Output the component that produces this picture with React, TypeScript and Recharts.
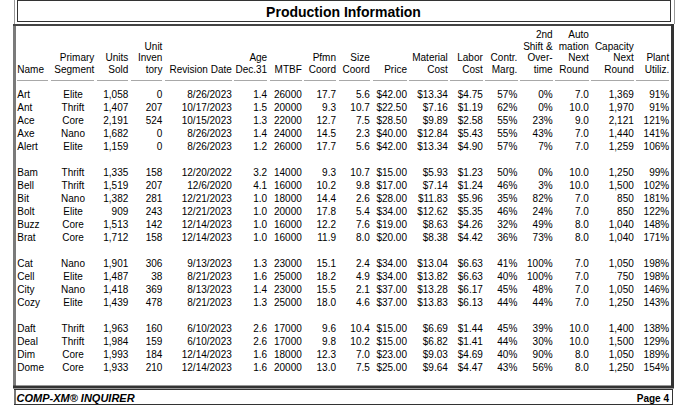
import { ScatterChart, Scatter, XAxis, YAxis } from 'recharts';

// one entry per product, in report order
const names = ['Art', 'Ant', 'Ace', 'Axe', 'Alert', 'Bam', 'Bell', 'Bit', 'Bolt', 'Buzz', 'Brat', 'Cat', 'Cell', 'City', 'Cozy', 'Daft', 'Deal', 'Dim', 'Dome'];
const segments = ['Elite', 'Thrift', 'Core', 'Nano', 'Elite', 'Thrift', 'Thrift', 'Nano', 'Elite', 'Core', 'Core', 'Nano', 'Elite', 'Nano', 'Elite', 'Thrift', 'Thrift', 'Core', 'Core'];
const unitsSold = [1058, 1407, 2191, 1682, 1159, 1335, 1519, 1382, 909, 1513, 1712, 1901, 1487, 1418, 1439, 1963, 1984, 1993, 1933];
const inventory = [0, 207, 524, 0, 0, 158, 207, 281, 243, 142, 158, 306, 38, 369, 478, 160, 159, 184, 210];
const revisionDates = ['8/26/2023', '10/17/2023', '10/15/2023', '8/26/2023', '8/26/2023', '12/20/2022', '12/6/2020', '12/21/2023', '12/21/2023', '12/14/2023', '12/14/2023', '9/13/2023', '8/21/2023', '8/13/2023', '8/21/2023', '6/10/2023', '6/10/2023', '12/14/2023', '12/14/2023'];
const ageDec31 = [1.4, 1.5, 1.3, 1.4, 1.2, 3.2, 4.1, 1.0, 1.0, 1.0, 1.0, 1.3, 1.6, 1.4, 1.3, 2.6, 2.6, 1.6, 1.6];
const mtbf = [26000, 20000, 22000, 24000, 26000, 14000, 16000, 18000, 20000, 16000, 16000, 23000, 25000, 23000, 25000, 17000, 17000, 18000, 20000];
const pfmnCoord = [17.7, 9.3, 12.7, 14.5, 17.7, 9.3, 10.2, 14.4, 17.8, 12.2, 11.9, 15.1, 18.2, 15.5, 18.0, 9.6, 9.8, 12.3, 13.0];
const sizeCoord = [5.6, 10.7, 7.5, 2.3, 5.6, 10.7, 9.8, 2.6, 5.4, 7.6, 8.0, 2.4, 4.9, 2.1, 4.6, 10.4, 10.2, 7.0, 7.5];
const prices = [42, 22.5, 28.5, 40, 42, 15, 17, 28, 34, 19, 20, 34, 34, 37, 37, 15, 15, 23, 25];
const materialCost = [13.34, 7.16, 9.89, 12.84, 13.34, 5.93, 7.14, 11.83, 12.62, 8.63, 8.38, 13.04, 13.82, 13.28, 13.83, 6.69, 6.82, 9.03, 9.64];
const laborCost = [4.75, 1.19, 2.58, 5.43, 4.90, 1.23, 1.24, 5.96, 5.35, 4.26, 4.42, 6.63, 6.63, 6.17, 6.13, 1.44, 1.41, 4.69, 4.47];
const contrMargin = [57, 62, 55, 55, 57, 50, 46, 35, 46, 32, 36, 41, 40, 45, 44, 45, 44, 40, 43];
const overtime = [0, 0, 23, 43, 7, 0, 3, 82, 24, 49, 73, 100, 100, 48, 44, 39, 30, 90, 56];
const automationNext = [7, 10, 9, 7, 7, 10, 10, 7, 7, 8, 8, 7, 7, 7, 7, 10, 10, 8, 8];
const capacityNext = [1369, 1970, 2121, 1440, 1259, 1250, 1500, 850, 850, 1040, 1040, 1050, 750, 1050, 1250, 1400, 1500, 1050, 1250];
const plantUtil = [91, 91, 121, 141, 106, 99, 102, 181, 122, 148, 171, 198, 198, 146, 143, 138, 129, 189, 154];

const W = 692;
const H = 413;
const FONT = '"Liberation Sans", Arial, Helvetica, sans-serif';
const HEADER_Y = [38, 49.5, 61, 72.5];
const RULE_Y = 80.5;
const FIRST_BASE = 97.7;
const LAST_BASE = 370.6;

const int = (v: number) => v.toLocaleString('en-US');
const one = (v: number) => v.toFixed(1);
const money = (v: number) => '$' + v.toFixed(2);
const pct = (v: number) => v + '%';

// blank line between the A / B / C / D teams
const rowPos = names.map((n, i) => i + 'ABCD'.indexOf(n[0]));
const lastRow = rowPos[rowPos.length - 1];
const rowH = (LAST_BASE - FIRST_BASE) / lastRow;

type Anchor = 'start' | 'middle' | 'end';
interface Col {
    key: string;
    header: string[];
    x: number;
    anchor: Anchor;
    headX?: number;
    headAnchor?: Anchor;
    rule: [number, number];
    values: string[];
}

const columns: Col[] = [
    { key: 'name', header: ['', '', '', 'Name'], x: 17.3, anchor: 'start', rule: [17, 48], values: names },
    { key: 'seg', header: ['', '', 'Primary', 'Segment'], x: 73, anchor: 'middle', headX: 94.3, headAnchor: 'end', rule: [51, 94], values: segments },
    { key: 'sold', header: ['', '', 'Units', 'Sold'], x: 128.3, anchor: 'end', rule: [97, 128], values: unitsSold.map(int) },
    { key: 'inv', header: ['', 'Unit', 'Inven', 'tory'], x: 162.4, anchor: 'end', rule: [131, 162], values: inventory.map(int) },
    { key: 'rev', header: ['', '', '', 'Revision Date'], x: 231.8, anchor: 'end', rule: [165, 232], values: revisionDates },
    { key: 'age', header: ['', '', 'Age', 'Dec.31'], x: 267.2, anchor: 'end', rule: [234, 267], values: ageDec31.map(one) },
    { key: 'mtbf', header: ['', '', '', 'MTBF'], x: 301.8, anchor: 'end', rule: [270, 302], values: mtbf.map(String) },
    { key: 'pfmn', header: ['', '', 'Pfmn', 'Coord'], x: 336, anchor: 'end', rule: [304, 336], values: pfmnCoord.map(one) },
    { key: 'size', header: ['', '', 'Size', 'Coord'], x: 369.8, anchor: 'end', rule: [339, 370], values: sizeCoord.map(one) },
    { key: 'price', header: ['', '', '', 'Price'], x: 407, anchor: 'end', rule: [373, 407], values: prices.map(money) },
    { key: 'mat', header: ['', '', 'Material', 'Cost'], x: 447.8, anchor: 'end', rule: [409, 448], values: materialCost.map(money) },
    { key: 'lab', header: ['', '', 'Labor', 'Cost'], x: 482.8, anchor: 'end', rule: [450, 483], values: laborCost.map(money) },
    { key: 'cm', header: ['', '', 'Contr.', 'Marg.'], x: 517.3, anchor: 'end', rule: [485, 518], values: contrMargin.map(pct) },
    { key: 'ot', header: ['2nd', 'Shift &', 'Over-', 'time'], x: 552.6, anchor: 'end', rule: [520, 553], values: overtime.map(pct) },
    { key: 'auto', header: ['Auto', 'mation', 'Next', 'Round'], x: 588.8, anchor: 'end', rule: [555, 589], values: automationNext.map(one) },
    { key: 'cap', header: ['', 'Capacity', 'Next', 'Round'], x: 633.8, anchor: 'end', rule: [591, 634], values: capacityNext.map(int) },
    { key: 'util', header: ['', '', 'Plant', 'Utiliz.'], x: 669.2, anchor: 'end', rule: [636, 669], values: plantUtil.map(pct) },
];

function Frame() {
    return (
        <svg width={W} height={H} style={{ position: 'absolute', left: 0, top: 0 }}>
            <rect x={0} y={0} width={W} height={H} fill="#fff" />
            {/* title box */}
            <line x1={14.5} y1={0} x2={14.5} y2={24} stroke="#999" />
            <line x1={674.5} y1={0} x2={674.5} y2={24} stroke="#999" />
            <rect x={17.5} y={0.5} width={653} height={21} fill="#fff" stroke="#333" />
            <text x={343.5} y={16.8} textAnchor="middle" fontFamily={FONT} fontSize={14} fontWeight="bold" fill="#000">
                Production Information
            </text>
            {/* main panel */}
            <rect x={13} y={24} width={661} height={364} fill="#fff" />
            <rect x={13} y={24} width={3} height={364} fill="#7a7a7a" />
            <rect x={13} y={24} width={661} height={2} fill="#444" />
            <rect x={671} y={24} width={3} height={364} fill="#333" />
            <rect x={13} y={385.5} width={661} height={3} fill="#333" />
            {/* header */}
            {columns.map(c =>
                c.header.map((h, r) =>
                    h ? (
                        <text
                            key={c.key + r}
                            x={c.headX ?? c.x}
                            y={HEADER_Y[r]}
                            textAnchor={c.headAnchor ?? c.anchor}
                            fontFamily={FONT}
                            fontSize={10}
                            fill="#000"
                        >
                            {h}
                        </text>
                    ) : null
                )
            )}
            {columns.map(c => (
                <line key={c.key + '-rule'} x1={c.rule[0]} y1={RULE_Y} x2={c.rule[1]} y2={RULE_Y} stroke="#a8a8a8" />
            ))}
            {/* footer */}
            <rect x={14.5} y={389.5} width={658} height={15} fill="#fff" stroke="#333" />
            <line x1={15} y1={390} x2={15} y2={404} stroke="#777" strokeWidth={2} />
            <text x={16.5} y={401.6} fontFamily={FONT} fontSize={11} fontWeight="bold" fontStyle="italic" fill="#000">
                COMP-XM® INQUIRER
            </text>
            <text x={669} y={401.6} textAnchor="end" fontFamily={FONT} fontSize={10} fontWeight="bold" fill="#000">
                Page 4
            </text>
        </svg>
    );
}

const cellShape = (anchor: Anchor) => (props: any) => (
    <text x={props.cx} y={props.cy} textAnchor={anchor} fontFamily={FONT} fontSize={10} fill="#000">
        {props.payload.t}
    </text>
);

export default function App() {
    return (
        <div style={{ position: 'absolute', left: 0, top: 0, width: W, height: H, background: '#fff' }}>
            <Frame />
            <div style={{ position: 'absolute', left: 0, top: 0 }}>
                {/* one padding row above and below so the cell text is not clipped */}
                <ScatterChart width={W} height={H} margin={{ top: FIRST_BASE - rowH, right: 0, bottom: H - LAST_BASE - rowH, left: 0 }}>
                    <XAxis type="number" dataKey="x" domain={[0, W]} allowDataOverflow hide />
                    <YAxis type="number" dataKey="y" domain={[-1, lastRow + 1]} allowDataOverflow reversed hide />
                    {columns.map(c => (
                        <Scatter
                            key={c.key}
                            data={c.values.map((t, i) => ({ x: c.x, y: rowPos[i], t }))}
                            shape={cellShape(c.anchor)}
                            isAnimationActive={false}
                        />
                    ))}
                </ScatterChart>
            </div>
        </div>
    );
}
